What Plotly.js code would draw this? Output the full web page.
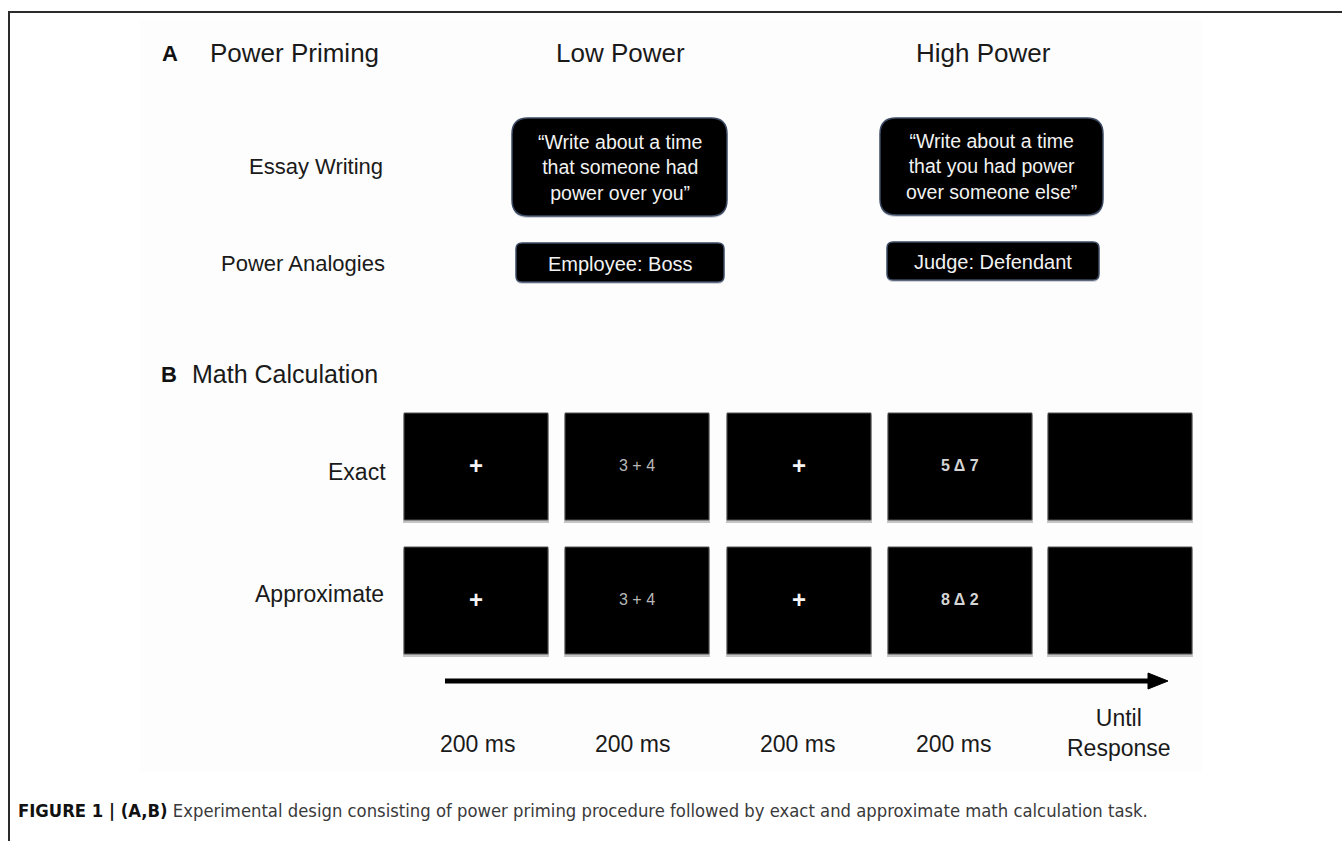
<!DOCTYPE html>
<html><head><meta charset="utf-8">
<script src="https://cdn.plot.ly/plotly-3.0.1.min.js"></script>
<style>html,body{margin:0;padding:0;background:#fff}</style>
</head><body>
<div id="chart" style="width:1342px;height:841px"></div>
<script>
// ---- content ----
const panelLabels = ['A', 'B'];
const panelTitles = ['Power Priming', 'Math Calculation'];
const powerConditions = ['Low Power', 'High Power'];
const primingTasks = ['Essay Writing', 'Power Analogies'];
const essayPrompts = ['\u201cWrite about a time<br>that someone had<br>power over you\u201d',
                      '\u201cWrite about a time<br>that you had power<br>over someone else\u201d'];
const analogyPairs = ['Employee: Boss', 'Judge: Defendant'];
const mathConditions = ['Exact', 'Approximate'];
const exactStimuli = ['+', '3 + 4', '+', '5 \u0394 7', ''];
const approxStimuli = ['+', '3 + 4', '+', '8 \u0394 2', ''];
const durations = ['200 ms', '200 ms', '200 ms', '200 ms', 'Until<br>Response'];
const captionBold = 'FIGURE 1 | (A,B)';
const captionText = 'Experimental design consisting of power priming procedure followed by exact and approximate math calculation task.';

// ---- layout geometry ----
const W = 1342, H = 841;
const FONT = "'Liberation Sans', Arial, Helvetica, sans-serif";
const TXT = '#1a1a1a';
const shapes = [];
const annotations = [];

function rr(x0, y0, x1, y1, r) {
  return `M ${x0 + r},${y0} L ${x1 - r},${y0} Q ${x1},${y0} ${x1},${y0 + r} L ${x1},${y1 - r} Q ${x1},${y1} ${x1 - r},${y1} L ${x0 + r},${y1} Q ${x0},${y1} ${x0},${y1 - r} L ${x0},${y0 + r} Q ${x0},${y0} ${x0 + r},${y0} Z`;
}
function txt(x, y, text, size, opts) {
  annotations.push(Object.assign({
    x: x, y: y, xref: 'x', yref: 'y', text: text, showarrow: false,
    xanchor: 'center', yanchor: 'middle',
    font: {family: FONT, size: size, color: TXT}
  }, opts || {}));
}

// subtle figure background
shapes.push({type: 'rect', xref: 'x', yref: 'y', x0: 140, x1: 1202, y0: 20, y1: 772,
  fillcolor: '#fdfdfd', line: {width: 0}, layer: 'below'});
// frame
shapes.push({type: 'path', xref: 'x', yref: 'y', path: `M 9,${H} L 9,12 L ${W},12`,
  line: {color: '#2b2b2b', width: 2}});

// Panel A
txt(170, 53, '<b>' + panelLabels[0] + '</b>', 22, {font: {family: FONT, size: 22, color: '#111'}});
txt(208, 53, panelTitles[0], 26, {xanchor: 'left'});
const condCx = [620, 983];
powerConditions.forEach((c, i) => txt(condCx[i], 53, c, 26));
txt(385, 166, primingTasks[0], 22, {xanchor: 'right'});
txt(387, 263, primingTasks[1], 22, {xanchor: 'right'});

const essayBoxes = [[512, 118, 727, 216], [880, 118, 1103, 215]];
const analogyBoxes = [[516, 243, 724, 282], [887, 242, 1099, 280]];
essayBoxes.forEach((b, i) => {
  shapes.push({type: 'path', xref: 'x', yref: 'y', path: rr(b[0], b[1] + 2, b[2], b[3] + 2, 16),
    fillcolor: 'rgba(120,130,150,0.35)', line: {width: 0}});
  shapes.push({type: 'path', xref: 'x', yref: 'y', path: rr(b[0], b[1], b[2], b[3], 16),
    fillcolor: '#000', line: {color: '#3c4a63', width: 1.5}});
  txt((b[0] + b[2]) / 2, (b[1] + b[3]) / 2, essayPrompts[i], 19.5, {font: {family: FONT, size: 19.5, color: '#f2f2f2'}});
});
analogyBoxes.forEach((b, i) => {
  shapes.push({type: 'path', xref: 'x', yref: 'y', path: rr(b[0], b[1] + 2, b[2], b[3] + 2, 6),
    fillcolor: 'rgba(120,130,150,0.35)', line: {width: 0}});
  shapes.push({type: 'path', xref: 'x', yref: 'y', path: rr(b[0], b[1], b[2], b[3], 6),
    fillcolor: '#000', line: {color: '#3c4a63', width: 1.5}});
  txt((b[0] + b[2]) / 2, (b[1] + b[3]) / 2 + 1, analogyPairs[i], 20, {font: {family: FONT, size: 20, color: '#f2f2f2'}});
});

// Panel B
txt(169, 374, '<b>' + panelLabels[1] + '</b>', 22, {font: {family: FONT, size: 22, color: '#111'}});
txt(190, 374, panelTitles[1], 25, {xanchor: 'left'});
txt(388, 472, mathConditions[0], 23, {xanchor: 'right'});
txt(386, 594, mathConditions[1], 23, {xanchor: 'right'});

const colX0 = [404, 565, 727, 888, 1048];
const boxW = 144, boxH = 107;
const rowY0 = [413, 547];
const rowStimuli = [exactStimuli, approxStimuli];
rowStimuli.forEach((stims, r) => {
  stims.forEach((s, c) => {
    const x0 = colX0[c], y0 = rowY0[r];
    shapes.push({type: 'rect', xref: 'x', yref: 'y', x0: x0 - 1, x1: x0 + boxW + 1, y0: y0 + 2, y1: y0 + boxH + 3,
      fillcolor: '#c4c4c4', line: {width: 0}});
    shapes.push({type: 'rect', xref: 'x', yref: 'y', x0: x0, x1: x0 + boxW, y0: y0, y1: y0 + boxH,
      fillcolor: '#000', line: {color: '#555', width: 1}});
    if (s) {
      const isPlus = s === '+';
      const isDelta = s.indexOf('\u0394') >= 0;
      const sz = isPlus ? 24 : (isDelta ? 16 : 16);
      txt(x0 + boxW / 2, y0 + boxH / 2 - 1, isPlus || isDelta ? '<b>' + s + '</b>' : s, sz,
        {font: {family: FONT, size: sz, color: isPlus ? '#f4f4f4' : (isDelta ? '#d4d4d4' : '#b8b8b8')}});
    }
  });
});

// time arrow
shapes.push({type: 'line', xref: 'x', yref: 'y', x0: 445, x1: 1152, y0: 681, y1: 681,
  line: {color: '#000', width: 5}});
shapes.push({type: 'path', xref: 'x', yref: 'y', path: 'M 1148,673 L 1168,681 L 1148,689 Z',
  fillcolor: '#000', line: {color: '#000', width: 1}});
const durCx = [477, 632, 797, 953, 1119];
durations.forEach((d, i) => txt(durCx[i], i < 4 ? 744 : 733, d, 23, {font: {family: FONT, size: 23, color: TXT}}));

// caption
txt(16, 810, '<b>' + captionBold + '</b> <span style="color:#3a3a3a">' + captionText + '</span>', 18.3,
  {xanchor: 'left', font: {family: "'Liberation Sans Narrow', 'Arial Narrow', 'DejaVu Sans Condensed', sans-serif", size: 18.3, color: '#111'}});

const layout = {
  width: W, height: H,
  margin: {l: 0, r: 0, t: 0, b: 0},
  paper_bgcolor: '#fff', plot_bgcolor: '#fff',
  xaxis: {range: [0, W], visible: false, fixedrange: true},
  yaxis: {range: [H, 0], visible: false, fixedrange: true},
  shapes: shapes,
  annotations: annotations,
  showlegend: false
};
Plotly.newPlot('chart', [], layout, {staticPlot: true, displayModeBar: false});
</script>
</body></html>
